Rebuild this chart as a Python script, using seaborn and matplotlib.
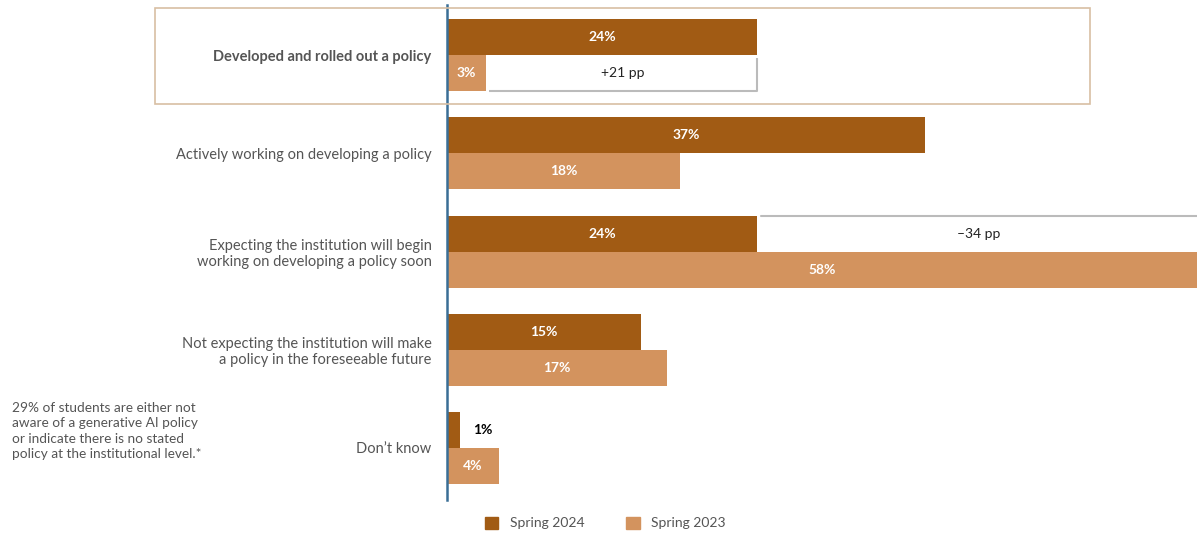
import matplotlib as mpl
import matplotlib.pyplot as plt
import pandas as pd
import seaborn as sns
from matplotlib.patches import Patch, Rectangle

categories = [
    "Developed and rolled out a policy",
    "Actively working on developing a policy",
    "Expecting the institution will begin\nworking on developing a policy soon",
    "Not expecting the institution will make\na policy in the foreseeable future",
    "Don\u2019t know",
]
seasons = ["Spring 2024", "Spring 2023"]
spring_2024 = [24, 37, 24, 15, 1]
spring_2023 = [3, 18, 58, 17, 4]
note = ("29% of students are either not\naware of a generative AI policy\n"
        "or indicate there is no stated\npolicy at the institutional level.*")

DARK = "#A15B14"
LIGHT = "#D3935E"
TEXT = "#555555"

sns.set_theme(style="white")
mpl.rcParams["font.family"] = ["Lato", "DejaVu Sans"]

df = pd.DataFrame({
    "category": categories * 2,
    "season": [seasons[0]] * 5 + [seasons[1]] * 5,
    "value": spring_2024 + spring_2023,
})

fig = plt.figure(figsize=(11.97, 5.35), dpi=100)
ax = fig.add_axes([447 / 1197, 35 / 535, 750 / 1197, 495 / 535])

sns.barplot(data=df, x="value", y="category", hue="season",
            hue_order=seasons, palette=[DARK, LIGHT], width=0.733,
            saturation=1, linewidth=0, legend=False, ax=ax)

ax.set_xlim(0, 58)
ax.set_ylim(4.53, -0.51)
ax.set_xlabel("")
ax.set_ylabel("")
ax.set_xticks([])
for side in ["top", "right", "bottom"]:
    ax.spines[side].set_visible(False)
ax.spines["left"].set_color("#3A6E96")
ax.spines["left"].set_linewidth(1.8)
ax.tick_params(axis="y", length=0, pad=11)
ax.set_yticks(range(len(categories)))
ax.set_yticklabels(categories, fontsize=10.5, color=TEXT)
ax.get_yticklabels()[0].set_fontweight("bold")

# value labels
for container in ax.containers:
    for bar in container:
        w = bar.get_width()
        cy = bar.get_y() + bar.get_height() / 2
        if w >= 2:
            ax.text(w / 2, cy, f"{w:.0f}%", ha="center", va="center",
                    color="white", fontsize=10, fontweight="bold")
        else:
            ax.text(w + 1.0, cy, f"{w:.0f}%", ha="left", va="center",
                    color="black", fontsize=10, fontweight="bold")

h = 0.733 / 2
grey = "#BBBBBB"
# +21 pp bracket (row 0, light bar)
d0 = spring_2024[0] - spring_2023[0]
x0, x1 = spring_2023[0] + 0.25, spring_2024[0]
yb = 0 + h
ax.plot([x0, x1, x1], [yb, yb, 0.03], color=grey, lw=1.5,
        solid_capstyle="butt", clip_on=False)
ax.text((x0 + x1) / 2, h / 2, f"+{d0} pp", ha="center", va="center",
        fontsize=10, color="#222222")
# -34 pp bracket (row 2, dark bar)
d2 = spring_2024[2] - spring_2023[2]
x0, x1 = spring_2024[2] + 0.3, spring_2023[2]
yt = 2 - h
ax.plot([x0, x1], [yt, yt], color=grey, lw=1.5, clip_on=False)
ax.text((x0 + x1) / 2, 2 - h / 2, f"\u2013{abs(d2)} pp", ha="center",
        va="center", fontsize=10, color="#222222")

# highlight box around first row
fig.patches.append(Rectangle((155 / 1197, 1 - 104 / 535), 935 / 1197,
                             96 / 535, transform=fig.transFigure,
                             fill=False, edgecolor="#D8BFA3", lw=1.2))

fig.text(12 / 1197, 1 - 431 / 535, note, ha="left", va="center",
         fontsize=9.8, color=TEXT, linespacing=1.32)

handles = [Patch(color=DARK, label=seasons[0]),
           Patch(color=LIGHT, label=seasons[1])]
fig.legend(handles=handles, loc="center", bbox_to_anchor=(605 / 1197, 1 - 523 / 535),
           ncol=2, frameon=False, fontsize=10, handlelength=1.0,
           handleheight=1.0, columnspacing=3.0, labelcolor=TEXT)

fig.savefig("out.png", dpi=100)
